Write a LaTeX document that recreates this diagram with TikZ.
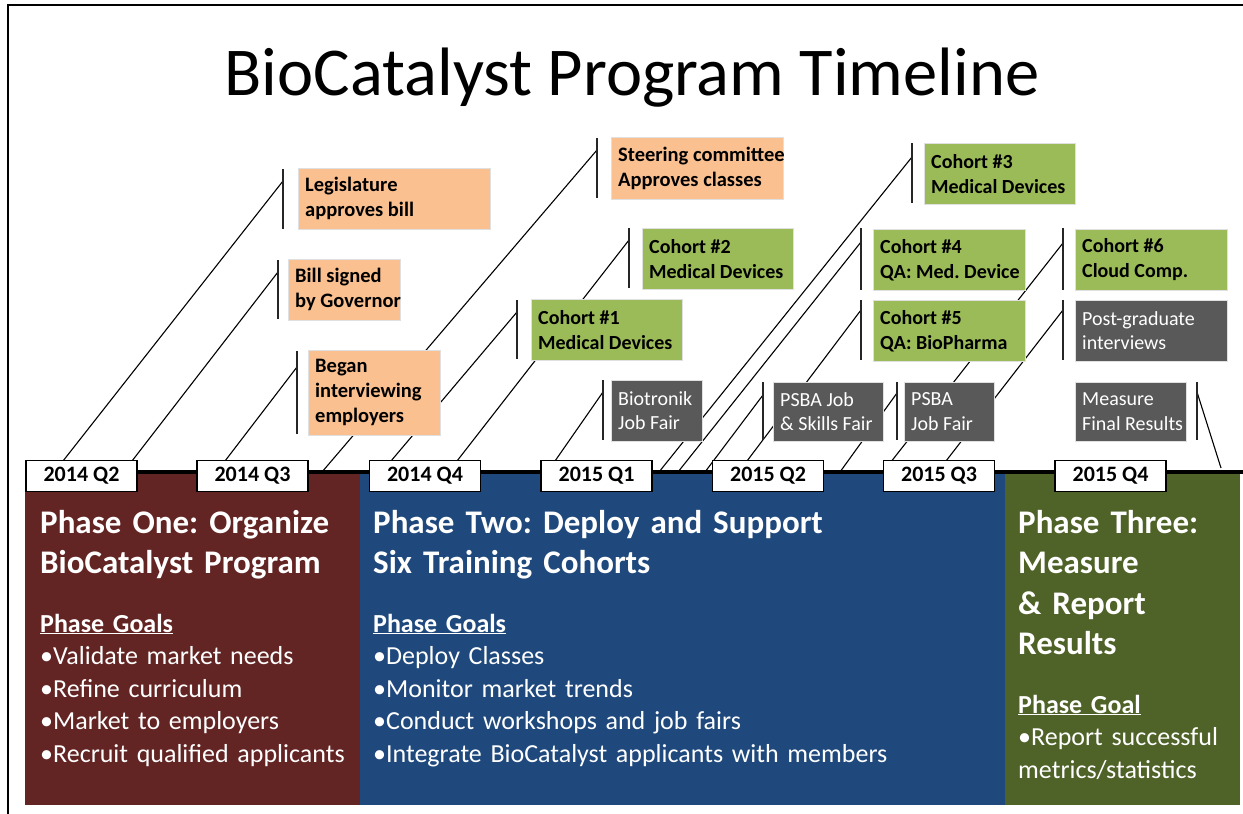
\documentclass[tikz,border=0pt]{standalone}
\usepackage{fontspec}
\setmainfont{Carlito}
\definecolor{evorange}{HTML}{FAC090}
\definecolor{evgreen}{HTML}{9BBB59}
\definecolor{evgray}{HTML}{595959}
\definecolor{phaseone}{HTML}{632523}
\definecolor{phasetwo}{HTML}{1F497D}
\definecolor{phasethree}{HTML}{4F6228}
% an event box: #1 name, #2 kind (ms, co, fa), #3/#4 top-left corner, #5 width, #6 height, #7 text
\newcommand{\tlbox}[7]{%
  \node[#2box, minimum width=#5pt, minimum height=#6pt] (#1) at (#3,#4) {};
  \node[#2text] (#1-t) at ([xshift=7pt]#1.west) {#7};
}
\begin{document}
\frenchspacing
\begin{tikzpicture}[x=1pt,y=-1pt,
  evbox/.style={anchor=north west, inner sep=0pt, draw=black!12, line width=0.6pt},
  msbox/.style={evbox, fill=evorange},
  cobox/.style={evbox, fill=evgreen},
  fabox/.style={evbox, fill=evgray},
  evtext/.style={anchor=west, inner sep=0pt, align=left},
  mstext/.style={evtext, text=black, font=\fontsize{20.5}{25}\selectfont\bfseries},
  cotext/.style={evtext, text=black, font=\fontsize{20}{25}\selectfont\bfseries},
  fatext/.style={evtext, text=white, font=\fontsize{20}{24.5}\selectfont},
  bracket/.style={draw=black!85, line width=1.5pt},
  leader/.style={draw=black, line width=1.1pt},
  quarter/.style={draw=black, line width=1.6pt, fill=white, minimum width=111pt,
    minimum height=31pt, inner sep=0pt, font=\fontsize{22}{24}\selectfont\bfseries},
  phasetitle/.style={anchor=base west, inner sep=0pt, align=left, text=white,
    font=\fontsize{33}{40.5}\selectfont\bfseries},
  phasegoals/.style={anchor=base west, inner sep=0pt, align=left, text=white,
    font=\fontsize{26}{32.5}\selectfont}
]
\useasboundingbox (0,0) rectangle (1243,814);

% frame
\draw[line width=2.6pt] (8,814) -- (8,5) -- (1243,5);

% title
\node[anchor=base, inner sep=0pt, font=\fontsize{68.5}{70}\selectfont] (title) at (632,95)
  {BioCatalyst Program Timeline};

% bracket knees (where each leader leaves its bracket) and feet on the timeline
\coordinate (leg-k) at (283,181);   \coordinate (leg-f) at (63,461);
\coordinate (bill-k) at (278,272);  \coordinate (bill-f) at (132,461);
\coordinate (began-k) at (297,367); \coordinate (began-f) at (225,461);
\coordinate (steer-k) at (597,150); \coordinate (steer-f) at (322,472);
\coordinate (c1-k) at (517,312);    \coordinate (c1-f) at (391,461);
\coordinate (c2-k) at (629,240);    \coordinate (c2-f) at (457,461);
\coordinate (biot-k) at (603,392);  \coordinate (biot-f) at (555,461);
\coordinate (c3-k) at (912,157);    \coordinate (c3-f) at (659,472);
\coordinate (c4-k) at (861,242);    \coordinate (c4-f) at (678,472);
\coordinate (js-k) at (763,395);    \coordinate (js-f) at (705,472);
\coordinate (c5-k) at (861,310);    \coordinate (c5-f) at (747,461);
\coordinate (psba-k) at (897,393);  \coordinate (psba-f) at (840,472);
\coordinate (c6-k) at (1063,243);   \coordinate (c6-f) at (883,472);
\coordinate (post-k) at (1063,310); \coordinate (post-f) at (946,461);
\coordinate (meas-k) at (1197,392); \coordinate (meas-f) at (1221,468);

% leaders run behind the boxes
\foreach \e in {leg,bill,began,steer,c1,c2,biot,c3,c4,js,c5,psba,c6,post,meas}
  \draw[leader] (\e-k) -- (\e-f);

% brackets
\coordinate (leg-bt) at (283,169);   \coordinate (leg-bb) at (283,229);
\coordinate (bill-bt) at (278,260);  \coordinate (bill-bb) at (278,319);
\coordinate (began-bt) at (297,351); \coordinate (began-bb) at (297,434);
\coordinate (steer-bt) at (597,138); \coordinate (steer-bb) at (597,198);
\coordinate (c1-bt) at (517,300);    \coordinate (c1-bb) at (517,359);
\coordinate (c2-bt) at (629,228);    \coordinate (c2-bb) at (629,288);
\coordinate (biot-bt) at (603,380);  \coordinate (biot-bb) at (603,440);
\coordinate (c3-bt) at (912,143);    \coordinate (c3-bb) at (912,203);
\coordinate (c4-bt) at (861,228);    \coordinate (c4-bb) at (861,290);
\coordinate (js-bt) at (763,382);    \coordinate (js-bb) at (763,440);
\coordinate (c5-bt) at (861,300);    \coordinate (c5-bb) at (861,360);
\coordinate (psba-bt) at (897,382);  \coordinate (psba-bb) at (897,440);
\coordinate (c6-bt) at (1063,228);   \coordinate (c6-bb) at (1063,290);
\coordinate (post-bt) at (1063,300); \coordinate (post-bb) at (1063,360);
\coordinate (meas-bt) at (1197,382); \coordinate (meas-bb) at (1197,440);
\foreach \e in {leg,bill,began,steer,c1,c2,biot,c3,c4,js,c5,psba,c6,post,meas}
  \draw[bracket] (\e-bt) -- (\e-bb);

% event boxes
\tlbox{leg}{ms}{298}{168}{192}{61}{Legislature\\approves bill}
\tlbox{bill}{ms}{288}{259}{112}{61}{Bill signed\\by Governor}
\tlbox{began}{ms}{308}{350}{132}{85}{Began\\interviewing\\employers}
\tlbox{steer}{ms}{611}{137}{172}{62}{Steering committee\\Approves classes}
\tlbox{c1}{co}{531}{299}{151}{61}{Cohort \#1\\Medical Devices}
\tlbox{c2}{co}{642}{228}{151}{61}{Cohort \#2\\Medical Devices}
\tlbox{c3}{co}{924}{143}{151}{61}{Cohort \#3\\Medical Devices}
\tlbox{c4}{co}{873}{229}{152}{61}{Cohort \#4\\QA: Med. Device}
\tlbox{c5}{co}{873}{300}{152}{61}{Cohort \#5\\QA: BioPharma}
\tlbox{c6}{co}{1075}{229}{152}{61}{Cohort \#6\\Cloud Comp.}
\tlbox{post}{fa}{1075}{300}{152}{61}{Post-graduate\\interviews}
\tlbox{biot}{fa}{611}{380}{91}{61}{Biotronik\\Job Fair}
\tlbox{js}{fa}{773}{382}{110}{59}{PSBA Job\\\& Skills Fair}
\tlbox{psba}{fa}{904}{382}{90}{59}{PSBA\\Job Fair}
\tlbox{meas}{fa}{1075}{382}{111}{59}{Measure\\Final Results}

% phase blocks
\fill[phaseone] (25,473) rectangle (360,805);
\fill[phasetwo] (360,473) rectangle (1005,805);
\fill[phasethree] (1005,473) rectangle (1240,805);

% timeline bar
\draw[line width=3.5pt] (25,472) -- (1243,472);

% quarter labels
\node[quarter] (q1) at (81.5,476) {2014 Q2};
\node[quarter] (q2) at (252.5,476) {2014 Q3};
\node[quarter] (q3) at (425,476) {2014 Q4};
\node[quarter] (q4) at (596.5,476) {2015 Q1};
\node[quarter] (q5) at (768,476) {2015 Q2};
\node[quarter] (q6) at (939,476) {2015 Q3};
\node[quarter] (q7) at (1110.5,476) {2015 Q4};

% phase texts
\node[phasetitle, text width=318pt] (p1title) at (40,533)
  {Phase One: Organize\\BioCatalyst Program};
\node[phasegoals, text width=318pt] (p1goals) at (40,632)
  {\textbf{\underline{Phase Goals}}\\•Validate market needs\\•Refine curriculum\\•Market to employers\\•Recruit qualified applicants};

\node[phasetitle, text width=620pt] (p2title) at (373,533)
  {Phase Two: Deploy and Support\\Six Training Cohorts};
\node[phasegoals, text width=620pt] (p2goals) at (373,632)
  {\textbf{\underline{Phase Goals}}\\•Deploy Classes\\•Monitor market trends\\•Conduct workshops and job fairs\\•Integrate BioCatalyst applicants with members};

\node[phasetitle, text width=215pt] (p3title) at (1018,533)
  {Phase Three:\\Measure\\\& Report\\Results};
\node[phasegoals, text width=215pt] (p3goals) at (1018,713)
  {\textbf{\underline{Phase Goal}}\\•Report successful\\metrics/statistics};
\end{tikzpicture}
\end{document}
